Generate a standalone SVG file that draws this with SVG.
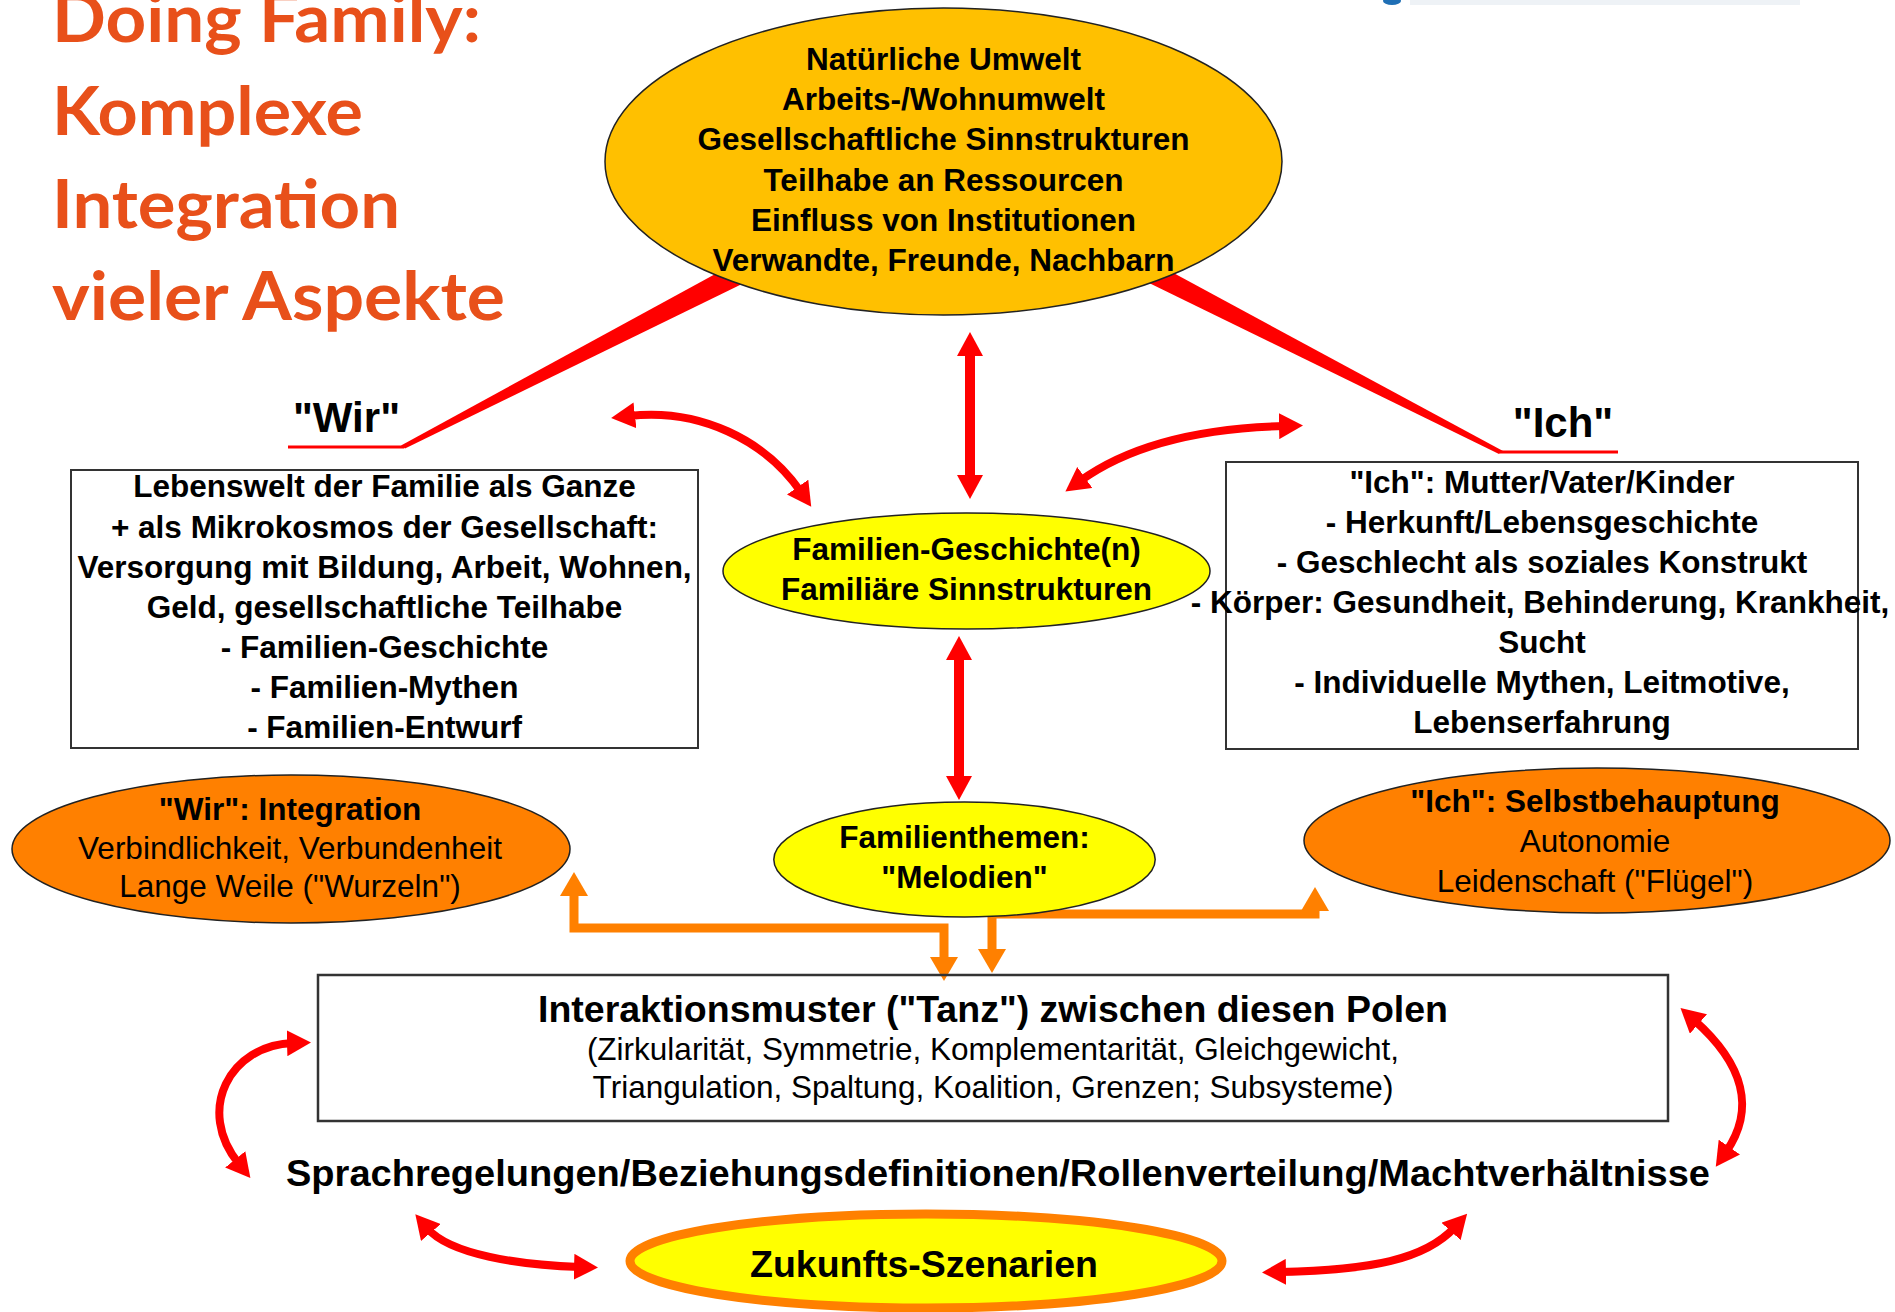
<svg xmlns="http://www.w3.org/2000/svg" width="1895" height="1312" viewBox="0 0 1895 1312">
<style>
  .title { font-family: Lato, "Open Sans", sans-serif; font-weight: bold; font-size: 67px; fill: #E8501A; }
  .b31 { font-family: "Liberation Sans", Arial, sans-serif; font-weight: bold; font-size: 31.5px; fill: #000; text-anchor: middle; }
  .r31 { font-family: "Liberation Sans", Arial, sans-serif; font-size: 31.5px; fill: #000; text-anchor: middle; }
  .b37 { font-family: "Liberation Sans", Arial, sans-serif; font-weight: bold; font-size: 37.5px; fill: #000; text-anchor: middle; }
  .b42 { font-family: "Liberation Sans", Arial, sans-serif; font-weight: bold; font-size: 42px; fill: #000; text-anchor: middle; }
  .box { fill: #fff; stroke: #333; stroke-width: 2; }
  .ell { stroke: #222; stroke-width: 1.5; }
  .red { fill: none; stroke: #FF0000; }
  .org { fill: none; stroke: #FF8000; stroke-width: 9; stroke-linejoin: miter; }
</style>
<defs>
  <marker id="redHead" viewBox="0 0 24 26" refX="6" refY="13" markerWidth="24" markerHeight="26" markerUnits="userSpaceOnUse" orient="auto-start-reverse">
    <path d="M0,0 L24,13 L0,26 Z" fill="#FF0000"/>
  </marker>
  <marker id="orgHead" viewBox="0 0 24 28" refX="6" refY="14" markerWidth="24" markerHeight="28" markerUnits="userSpaceOnUse" orient="auto-start-reverse">
    <path d="M0,0 L24,14 L0,28 Z" fill="#FF8000"/>
  </marker>
</defs>
<rect width="1895" height="1312" fill="#fff"/>

<g id="logo-fragment">
  <rect x="1410" y="0" width="390" height="5" fill="#eef2f6"/>
  <ellipse cx="1392" cy="1" rx="9" ry="4" fill="#1f6fb5"/>
</g>

<g id="title">
  <text class="title" x="52" y="42" textLength="429" lengthAdjust="spacingAndGlyphs">Doing Family:</text>
  <text class="title" x="52" y="135" textLength="311" lengthAdjust="spacingAndGlyphs">Komplexe</text>
  <text class="title" x="52" y="228" textLength="348" lengthAdjust="spacingAndGlyphs">Integration</text>
  <text class="title" x="52" y="320" textLength="453" lengthAdjust="spacingAndGlyphs">vieler Aspekte</text>
</g>

<g id="connectors">
  <!-- wedges to "Wir" / "Ich" -->
  <polygon points="401,445.5 405,448.5 742,284 730,266" fill="#FF0000"/>
  <line x1="288" y1="447" x2="404" y2="447" stroke="#FF0000" stroke-width="3"/>
  <polygon points="1503,451 1499,454 1145,281 1155,263" fill="#FF0000"/>
  <line x1="1500" y1="452" x2="1618" y2="452" stroke="#FF0000" stroke-width="3"/>
  <!-- straight red double arrows -->
  <path class="red" d="M970 350 L970 481" stroke-width="10" marker-start="url(#redHead)" marker-end="url(#redHead)"/>
  <path class="red" d="M959 654 L959 782" stroke-width="10" marker-start="url(#redHead)" marker-end="url(#redHead)"/>
  <!-- curved red double arrows -->
  <path class="red" d="M629 416 C700 408, 765 440, 801 492" stroke-width="8" marker-start="url(#redHead)" marker-end="url(#redHead)"/>
  <path class="red" d="M1080 481 C1130 445, 1200 428, 1285 426" stroke-width="8" marker-start="url(#redHead)" marker-end="url(#redHead)"/>
  <path class="red" d="M293 1043 C230 1045, 195 1110, 239 1164" stroke-width="8" marker-start="url(#redHead)" marker-end="url(#redHead)"/>
  <path class="red" d="M1694 1020 C1745 1065, 1755 1110, 1726 1152" stroke-width="8" marker-start="url(#redHead)" marker-end="url(#redHead)"/>
  <path class="red" d="M427 1228 C450 1255, 520 1265, 580 1267" stroke-width="8" marker-start="url(#redHead)" marker-end="url(#redHead)"/>
  <path class="red" d="M1280 1272 C1370 1270, 1425 1260, 1455 1227" stroke-width="8" marker-start="url(#redHead)" marker-end="url(#redHead)"/>
  <!-- orange connectors -->
  <path class="org" d="M574 890 L574 928 L944 928 L944 963" marker-start="url(#orgHead)" marker-end="url(#orgHead)"/>
  <path class="org" d="M992 955 L992 914 L1315 914 L1315 905" marker-start="url(#orgHead)" marker-end="url(#orgHead)"/>
</g>

<g id="umwelt">
  <ellipse class="ell" cx="943.5" cy="161.5" rx="338.5" ry="153.5" fill="#FFC000"/>
  <text class="b31" x="943.5" y="70">Natürliche Umwelt</text>
  <text class="b31" x="943.5" y="110">Arbeits-/Wohnumwelt</text>
  <text class="b31" x="943.5" y="150">Gesellschaftliche Sinnstrukturen</text>
  <text class="b31" x="943.5" y="191">Teilhabe an Ressourcen</text>
  <text class="b31" x="943.5" y="231">Einfluss von Institutionen</text>
  <text class="b31" x="943.5" y="271">Verwandte, Freunde, Nachbarn</text>
</g>

<g id="label-wir">
  <text class="b42" x="346.5" y="432">"Wir"</text>
</g>
<g id="label-ich">
  <text class="b42" x="1563" y="437">"Ich"</text>
</g>

<g id="familie-box">
  <rect class="box" x="71" y="470" width="627" height="278"/>
  <text class="b31" x="384.5" y="497">Lebenswelt der Familie als Ganze</text>
  <text class="b31" x="384.5" y="538">+ als Mikrokosmos der Gesellschaft:</text>
  <text class="b31" x="384.5" y="578">Versorgung mit Bildung, Arbeit, Wohnen,</text>
  <text class="b31" x="384.5" y="618">Geld, gesellschaftliche Teilhabe</text>
  <text class="b31" x="384.5" y="658">- Familien-Geschichte</text>
  <text class="b31" x="384.5" y="698">- Familien-Mythen</text>
  <text class="b31" x="384.5" y="738">- Familien-Entwurf</text>
</g>

<g id="geschichte">
  <ellipse class="ell" cx="966.5" cy="571" rx="243.5" ry="58" fill="#FFFF00"/>
  <text class="b31" x="966.5" y="560">Familien-Geschichte(n)</text>
  <text class="b31" x="966.5" y="600">Familiäre Sinnstrukturen</text>
</g>

<g id="ich-box">
  <rect class="box" x="1226" y="462" width="632" height="287"/>
  <text class="b31" x="1542" y="493">"Ich": Mutter/Vater/Kinder</text>
  <text class="b31" x="1542" y="533">- Herkunft/Lebensgeschichte</text>
  <text class="b31" x="1542" y="573">- Geschlecht als soziales Konstrukt</text>
  <text class="b31" x="1540" y="613">- Körper: Gesundheit, Behinderung, Krankheit,</text>
  <text class="b31" x="1542" y="653">Sucht</text>
  <text class="b31" x="1542" y="693">- Individuelle Mythen, Leitmotive,</text>
  <text class="b31" x="1542" y="733">Lebenserfahrung</text>
</g>

<g id="wir-integration">
  <ellipse class="ell" cx="291" cy="849" rx="279" ry="74" fill="#FF8000"/>
  <text class="b31" x="290" y="820">"Wir": Integration</text>
  <text class="r31" x="290" y="859">Verbindlichkeit, Verbundenheit</text>
  <text class="r31" x="290" y="897">Lange Weile ("Wurzeln")</text>
</g>

<g id="familienthemen">
  <ellipse class="ell" cx="964.5" cy="859.5" rx="190.7" ry="57.5" fill="#FFFF00"/>
  <text class="b31" x="964.5" y="848">Familienthemen:</text>
  <text class="b31" x="964.5" y="888">"Melodien"</text>
</g>

<g id="ich-selbstbehauptung">
  <ellipse class="ell" cx="1597" cy="840.5" rx="293" ry="72.5" fill="#FF8000"/>
  <text class="b31" x="1595" y="812">"Ich": Selbstbehauptung</text>
  <text class="r31" x="1595" y="852">Autonomie</text>
  <text class="r31" x="1595" y="892">Leidenschaft ("Flügel")</text>
</g>

<g id="interaktion">
  <rect x="318" y="975" width="1350" height="146" fill="none" stroke="#333" stroke-width="2.5"/>
  <text class="b37" x="993" y="1022">Interaktionsmuster ("Tanz") zwischen diesen Polen</text>
  <text class="r31" x="993" y="1060">(Zirkularität, Symmetrie, Komplementarität, Gleichgewicht,</text>
  <text class="r31" x="993" y="1098">Triangulation, Spaltung, Koalition, Grenzen; Subsysteme)</text>
</g>

<g id="sprachregelungen">
  <text class="b37" x="998" y="1186" textLength="1424" lengthAdjust="spacingAndGlyphs">Sprachregelungen/Beziehungsdefinitionen/Rollenverteilung/Machtverhältnisse</text>
</g>

<g id="zukunft">
  <ellipse cx="926" cy="1261" rx="296" ry="47" fill="#FFFF00" stroke="#FF8000" stroke-width="9"/>
  <text class="b37" x="924" y="1277">Zukunfts-Szenarien</text>
</g>
</svg>
